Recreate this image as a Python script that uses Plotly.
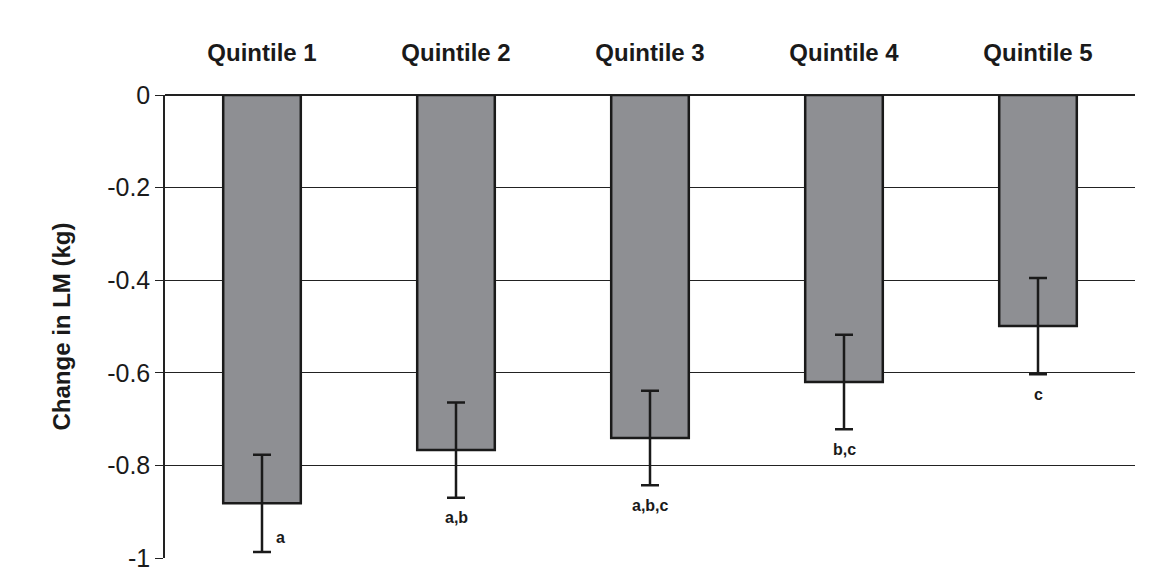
import plotly.graph_objects as go

categories = ["Quintile 1", "Quintile 2", "Quintile 3", "Quintile 4", "Quintile 5"]
change_lm = [-0.882, -0.767, -0.741, -0.620, -0.499]
sem = [0.105, 0.103, 0.102, 0.102, 0.104]
sig_labels = ["a", "a,b", "a,b,c", "b,c", "c"]

font = "Liberation Sans, Arial, sans-serif"

fig = go.Figure()
fig.add_trace(go.Bar(
    x=categories, y=change_lm, width=0.4,
    marker=dict(color="#8e8f93", line=dict(color="#1a1a1a", width=2.5)),
    error_y=dict(type="data", array=sem, color="#1a1a1a", thickness=2.5, width=9),
))

# significance letters below the error bars (Q1 sits beside its bar)
for i, (cat, v, e, lab) in enumerate(zip(categories, change_lm, sem, sig_labels)):
    if i == 0:
        fig.add_annotation(x=cat, y=v - e, text="<b>%s</b>" % lab, showarrow=False,
                           xshift=18, yshift=14, font=dict(size=16, color="#1a1a1a", family=font))
    else:
        fig.add_annotation(x=cat, y=v - e, text="<b>%s</b>" % lab, showarrow=False,
                           yshift=-20, font=dict(size=16, color="#1a1a1a", family=font))

fig.update_layout(
    width=1172, height=579,
    plot_bgcolor="white", paper_bgcolor="white",
    margin=dict(l=157, r=45, t=87, b=29),
    showlegend=False,
    font=dict(family=font, color="#1a1a1a"),
    xaxis=dict(side="top", tickfont=dict(size=24), tickprefix="<b>", ticksuffix="</b>",
               showline=False, ticks="", showgrid=False, automargin=False,
               ticklabelstandoff=28),
    yaxis=dict(range=[-1, 0], tickvals=[0, -0.2, -0.4, -0.6, -0.8, -1],
               ticktext=["0", "-0.2", "-0.4", "-0.6", "-0.8", "-1"],
               tickfont=dict(size=25), showgrid=True, gridcolor="#222", gridwidth=1,
               showline=True, linecolor="#222", linewidth=1.5, ticks="outside",
               ticklen=8, tickcolor="#222", zeroline=True, zerolinecolor="#222",
               automargin=False,
               title=dict(text="<b>Change in LM (kg)</b>", font=dict(size=24), standoff=30)),
)

fig.write_html("out.html")
